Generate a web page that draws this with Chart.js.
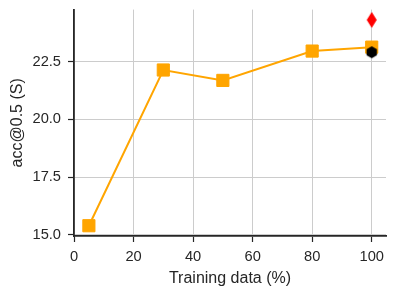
<!DOCTYPE html>
<html>
<head>
<meta charset="utf-8">
<script src="https://cdn.jsdelivr.net/npm/chart.js@4/dist/chart.umd.min.js"></script>
<style>
html,body{margin:0;padding:0;background:#fff;}
#wrap{width:396px;height:295px;position:relative;}
</style>
</head>
<body>
<div id="wrap"><canvas id="c" width="396" height="295"></canvas></div>
<script>
// Data
const trainPct = [5, 30, 50, 80, 100];
const accOrange = [15.40, 22.14, 21.69, 22.96, 23.13];
const hexPoint = [{x: 100, y: 22.91}];
const diamondPoint = [{x: 100, y: 24.31}];
const xTicks = [0, 20, 40, 60, 80, 100];
const yTicks = [15.0, 17.5, 20.0, 22.5];

function makeHex(r, color) {
  const c = document.createElement('canvas');
  const s = Math.ceil(r * 2 + 2);
  c.width = s; c.height = s;
  const g = c.getContext('2d');
  g.fillStyle = color;
  g.beginPath();
  for (let i = 0; i < 6; i++) {
    const a = Math.PI / 2 + i * Math.PI / 3;
    const px = s / 2 + r * Math.cos(a), py = s / 2 - r * Math.sin(a);
    if (i === 0) g.moveTo(px, py); else g.lineTo(px, py);
  }
  g.closePath(); g.fill();
  return c;
}
function makeThinDiamond(w, h, color) {
  const c = document.createElement('canvas');
  c.width = Math.ceil(w + 2); c.height = Math.ceil(h + 2);
  const g = c.getContext('2d');
  const cx = c.width / 2, cy = c.height / 2;
  g.fillStyle = color;
  g.beginPath();
  g.moveTo(cx, cy - h / 2); g.lineTo(cx + w / 2, cy);
  g.lineTo(cx, cy + h / 2); g.lineTo(cx - w / 2, cy);
  g.closePath(); g.fill();
  return c;
}

const txt = '#262626';
const tickFont = {family: "'Liberation Sans', Arial, sans-serif", size: 14.67};
const titleFont = {family: "'Liberation Sans', Arial, sans-serif", size: 16};

new Chart(document.getElementById('c'), {
  type: 'scatter',
  data: {
    datasets: [
      {data: hexPoint, pointStyle: makeHex(6, '#000000'), order: 0, clip: false},
      {data: diamondPoint, pointStyle: makeThinDiamond(10, 16, '#ff0000'), order: 0, clip: false},
      {
        data: trainPct.map((x, i) => ({x, y: accOrange[i]})),
        showLine: true, borderColor: '#ffa500', borderWidth: 2,
        backgroundColor: '#ffa500', pointBackgroundColor: '#ffa500', pointBorderColor: '#ffa500',
        pointStyle: 'rect', pointRadius: 8.6, pointBorderWidth: 1, order: 2, clip: false
      }
    ]
  },
  options: {
    responsive: false, animation: false, devicePixelRatio: 1,
    layout: {padding: {top: 8, right: 10, left: 0, bottom: 7}},
    plugins: {legend: {display: false}, tooltip: {enabled: false}},
    scales: {
      x: {
        type: 'linear', min: 0, max: 104.8,
        afterBuildTicks: a => { a.ticks = xTicks.map(v => ({value: v})); },
        afterFit: s => { s.height = 52; s.paddingLeft = 0; s.paddingRight = 0; },
        grid: {color: '#cccccc', lineWidth: 1, tickColor: txt, tickLength: 6, tickWidth: 1.2},
        border: {display: true, color: txt, width: 1.8},
        ticks: {color: txt, font: tickFont, padding: 6, maxRotation: 0, callback: v => String(v)},
        title: {display: true, text: 'Training data (%)', color: txt, font: titleFont, padding: {top: 2, bottom: 0}}
      },
      y: {
        type: 'linear', min: 14.955, max: 24.755,
        afterBuildTicks: a => { a.ticks = yTicks.map(v => ({value: v})); },
        afterFit: s => { s.width = 74; s.paddingTop = 0; s.paddingBottom = 0; },
        grid: {color: '#cccccc', lineWidth: 1, tickColor: txt, tickLength: 6, tickWidth: 1.2},
        border: {display: true, color: txt, width: 1.8},
        ticks: {color: txt, font: tickFont, padding: 7, callback: v => Number(v).toFixed(1)},
        title: {display: true, text: 'acc@0.5 (S)', color: txt, font: titleFont, padding: {top: 8, bottom: 6}}
      }
    }
  }
});
</script>
</body>
</html>
